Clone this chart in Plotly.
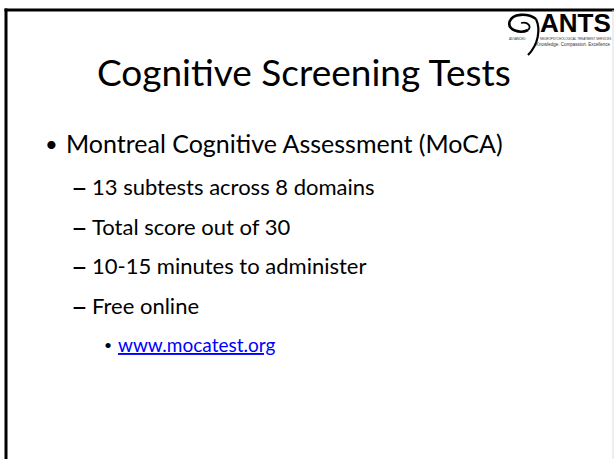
import plotly.graph_objects as go

W, H = 614, 459

title_text = "Cognitive Screening Tests"
level1_items = ["Montreal Cognitive Assessment (MoCA)"]
level2_items = ["13 subtests across 8 domains", "Total score out of 30",
                "10-15 minutes to administer", "Free online"]
level3_items = ["www.mocatest.org"]
logo_word = "ANTS"
logo_small = ["ADVANCED", "NEUROPSYCHOLOGICAL TREATMENT SERVICES",
              "Knowledge. Compassion. Excellence"]

FONT = "Lato"

fig = go.Figure()
fig.add_trace(go.Scatter(x=[0, W], y=[0, H], mode="markers",
                         marker=dict(opacity=0), hoverinfo="skip", showlegend=False))

ann = []
# title
ann.append(dict(x=304, y=71, text=title_text, showarrow=False, xanchor="center",
                yanchor="middle", font=dict(family=FONT, size=37, color="#000000")))
# level 1
y1 = [143]
for t, y in zip(level1_items, y1):
    ann.append(dict(x=43, y=y, text="•", showarrow=False, xanchor="left", yanchor="middle",
                    font=dict(family=FONT, size=22, color="#000000")))
    ann.append(dict(x=64, y=y, text=t, showarrow=False, xanchor="left", yanchor="middle",
                    font=dict(family=FONT, size=25, color="#000000")))
y2 = [186, 226, 265, 305]
for t, y in zip(level2_items, y2):
    ann.append(dict(x=69, y=y, text="–", showarrow=False, xanchor="left", yanchor="middle",
                    font=dict(family=FONT, size=29, color="#000000")))
    ann.append(dict(x=90, y=y, text=t, showarrow=False, xanchor="left", yanchor="middle",
                    font=dict(family=FONT, size=22, color="#000000")))
y3 = [344]
for t, y in zip(level3_items, y3):
    ann.append(dict(x=102, y=y, text="•", showarrow=False, xanchor="left", yanchor="middle",
                    font=dict(family=FONT, size=14, color="#000000")))
    ann.append(dict(x=116, y=y, text="<u>" + t + "</u>", showarrow=False, xanchor="left",
                    yanchor="middle", font=dict(family=FONT, size=19, color="#0000FF")))

# logo texts
ann.append(dict(x=613, y=23, text="<b>" + logo_word + "</b>", showarrow=False, xanchor="right",
                yanchor="middle", font=dict(family="Liberation Sans", size=26, color="#000000")))
ann.append(dict(x=507, y=39, text=logo_small[0], showarrow=False, xanchor="left",
                yanchor="middle", font=dict(family="Liberation Sans", size=3, color="#333333")))
ann.append(dict(x=613, y=39, text=logo_small[1], showarrow=False, xanchor="right",
                yanchor="middle", font=dict(family="Liberation Sans", size=3, color="#333333")))
ann.append(dict(x=613, y=44.5, text=logo_small[2], showarrow=False, xanchor="right",
                yanchor="middle", font=dict(family="Liberation Sans", size=4.5, color="#333333")))

shapes = []
# slide frame
shapes.append(dict(type="line", x0=6, y0=8.5, x1=6, y1=H, line=dict(color="#000000", width=3)))
shapes.append(dict(type="line", x0=4.5, y0=10, x1=W, y1=10, line=dict(color="#000000", width=3)))
shapes.append(dict(type="line", x0=613, y0=10, x1=613, y1=H, line=dict(color="#DDDDDD", width=1)))
# logo swirl
shapes.append(dict(type="path",
                   path="M 536 19 C 528 13, 512 13, 509.5 22 C 507.5 30, 520 34, 528 30",
                   line=dict(color="#000000", width=2.6)))
shapes.append(dict(type="path",
                   path="M 528 30 C 532 27, 528 21, 521 23",
                   line=dict(color="#000000", width=1.8)))
shapes.append(dict(type="path",
                   path="M 536 19 C 541 30, 538 45, 528 55",
                   line=dict(color="#000000", width=2.2)))

fig.update_layout(width=W, height=H, margin=dict(l=0, r=0, t=0, b=0),
                  paper_bgcolor="#FFFFFF", plot_bgcolor="#FFFFFF",
                  xaxis=dict(range=[0, W], visible=False, fixedrange=True),
                  yaxis=dict(range=[H, 0], visible=False, fixedrange=True),
                  annotations=ann, shapes=shapes, showlegend=False)

fig.write_html("out.html", config={"displayModeBar": False},
               post_script="document.body.style.margin='0';document.body.style.overflow='hidden';")
